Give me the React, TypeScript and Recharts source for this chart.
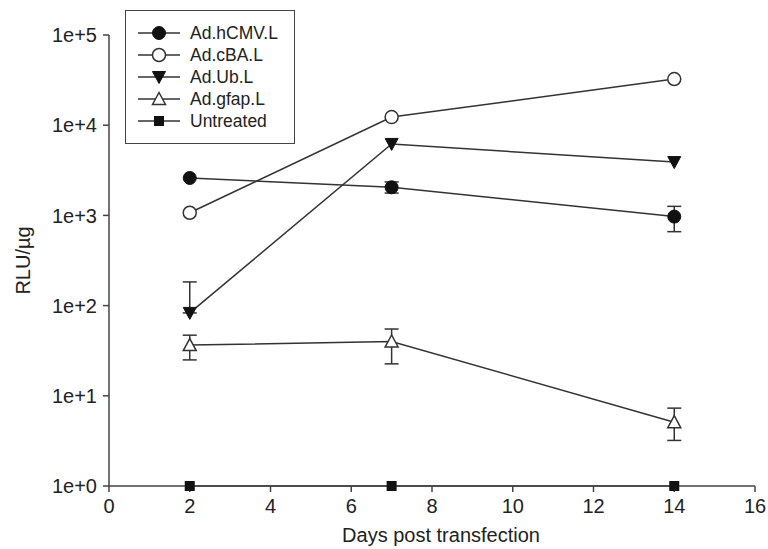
import React from 'react';
import { LineChart, Line, XAxis, YAxis, ErrorBar, Legend } from 'recharts';

// Days post transfection
const days = [2, 7, 14];

// RLU/µg per series
const hcmvValues = [2600, 2050, 970];
const cbaValues = [1070, 12300, 32500];
const ubValues = [83, 6200, 3900];
const gfapValues = [36.5, 40, 5.1];
const untreatedValues = [1, 1, 1];

// [lower, upper] error amounts, null where no bar is visible
const hcmvErrors = [null, [280, 300], [310, 290]];
const ubErrors = [[0, 100], null, null];
const gfapErrors = [[11.5, 10.5], [17.4, 15], [1.9, 2.2]];

const xTicks = [0, 2, 4, 6, 8, 10, 12, 14, 16];
const yTicks = [1, 10, 100, 1000, 10000, 100000];

const seriesNames = ['Ad.hCMV.L', 'Ad.cBA.L', 'Ad.Ub.L', 'Ad.gfap.L', 'Untreated'];
const seriesKeys = ['hcmv', 'cba', 'ub', 'gfap', 'untreated'];
const seriesShapes = ['filledCircle', 'openCircle', 'filledDown', 'openUp', 'filledSquare'];

const data = days.map((day, i) => ({
  day,
  hcmv: hcmvValues[i],
  cba: cbaValues[i],
  ub: ubValues[i],
  gfap: gfapValues[i],
  untreated: untreatedValues[i],
  hcmvErr: hcmvErrors[i],
  ubErr: ubErrors[i],
  gfapErr: gfapErrors[i],
}));

const FONT = '"Liberation Sans", Arial, Helvetica, sans-serif';
const INK = '#222';
const LINE = '#333';

const Marker = ({ shape, cx, cy }: { shape: string; cx: number; cy: number }) => {
  if (cx == null || cy == null) return null;
  switch (shape) {
    case 'filledCircle':
      return <circle cx={cx} cy={cy} r={6.5} fill="#111" stroke="#111" strokeWidth={1} />;
    case 'openCircle':
      return <circle cx={cx} cy={cy} r={6.5} fill="#fff" stroke={LINE} strokeWidth={1.5} />;
    case 'filledDown':
      return (
        <polygon
          points={`${cx - 6.5},${cy - 5.5} ${cx + 6.5},${cy - 5.5} ${cx},${cy + 6.5}`}
          fill="#111"
          stroke="#111"
          strokeWidth={1}
        />
      );
    case 'openUp':
      return (
        <polygon
          points={`${cx - 6.5},${cy + 5.5} ${cx + 6.5},${cy + 5.5} ${cx},${cy - 6.5}`}
          fill="#fff"
          stroke={LINE}
          strokeWidth={1.5}
        />
      );
    case 'filledSquare':
      return <rect x={cx - 5} y={cy - 5} width={10} height={10} fill="#111" />;
    default:
      return null;
  }
};

const renderDot = (shape: string) => (props: any) => (
  <Marker key={`${shape}-${props.index}`} shape={shape} cx={props.cx} cy={props.cy} />
);

const LegendBox = () => (
  <div
    style={{
      border: '1.5px solid #444',
      background: '#fff',
      padding: '11px 0 11px 0',
      width: 170,
      boxSizing: 'border-box',
      fontFamily: FONT,
      fontSize: 17.5,
      color: INK,
    }}
  >
    {seriesNames.map((name, i) => (
      <div key={name} style={{ display: 'flex', alignItems: 'center', height: 22 }}>
        <svg width={42} height={22} style={{ marginLeft: 12, marginRight: 10 }}>
          <line x1={0} y1={11} x2={42} y2={11} stroke={LINE} strokeWidth={1.5} />
          <Marker shape={seriesShapes[i]} cx={21} cy={11} />
        </svg>
        <span>{name}</span>
      </div>
    ))}
  </div>
);

const formatPower = (v: number) => `1e+${Math.round(Math.log10(v))}`;

export default function App() {
  return (
    <div style={{ position: 'absolute', left: 0, top: 0, background: '#fff' }}>
      <LineChart
        width={768}
        height={549}
        data={data}
        margin={{ top: 35, right: 13, left: 0, bottom: 0 }}
      >
        <XAxis
          dataKey="day"
          type="number"
          domain={[0, 16]}
          ticks={xTicks}
          height={63}
          tickSize={6}
          tickMargin={7}
          stroke="#444"
          strokeWidth={1.5}
          tick={{ fill: INK, fontSize: 20, fontFamily: FONT }}
          label={{
            value: 'Days post transfection',
            position: 'insideBottom',
            offset: 7,
            dx: 9,
            fill: INK,
            fontSize: 20,
            fontFamily: FONT,
          }}
        />
        <YAxis
          type="number"
          scale="log"
          domain={[1, 100000]}
          ticks={yTicks}
          width={109}
          tickSize={6}
          tickMargin={6}
          stroke="#444"
          strokeWidth={1.5}
          tickFormatter={formatPower}
          tick={{ fill: INK, fontSize: 20, fontFamily: FONT }}
          label={{
            content: ({ viewBox }: any) => {
              const cy = viewBox.y + viewBox.height / 2;
              return (
                <text
                  x={30}
                  y={cy}
                  transform={`rotate(-90 30 ${cy})`}
                  textAnchor="middle"
                  fill={INK}
                  fontSize={20}
                  fontFamily={FONT}
                >
                  RLU/µg
                </text>
              );
            },
          }}
        />
        <Legend
          layout="vertical"
          align="center"
          verticalAlign="middle"
          wrapperStyle={{ left: 125, top: 10, width: 172, height: 'auto' }}
          content={() => <LegendBox />}
        />
        {seriesKeys.map((key, i) => (
          <Line
            key={key}
            dataKey={key}
            name={seriesNames[i]}
            type="linear"
            stroke={LINE}
            strokeWidth={1.5}
            dot={renderDot(seriesShapes[i])}
            activeDot={false}
            isAnimationActive={false}
          >
            {(key === 'hcmv' || key === 'ub' || key === 'gfap') && (
              <ErrorBar
                dataKey={`${key}Err`}
                width={7}
                stroke={LINE}
                strokeWidth={1.5}
                direction="y"
                isAnimationActive={false}
              />
            )}
          </Line>
        ))}
      </LineChart>
    </div>
  );
}
